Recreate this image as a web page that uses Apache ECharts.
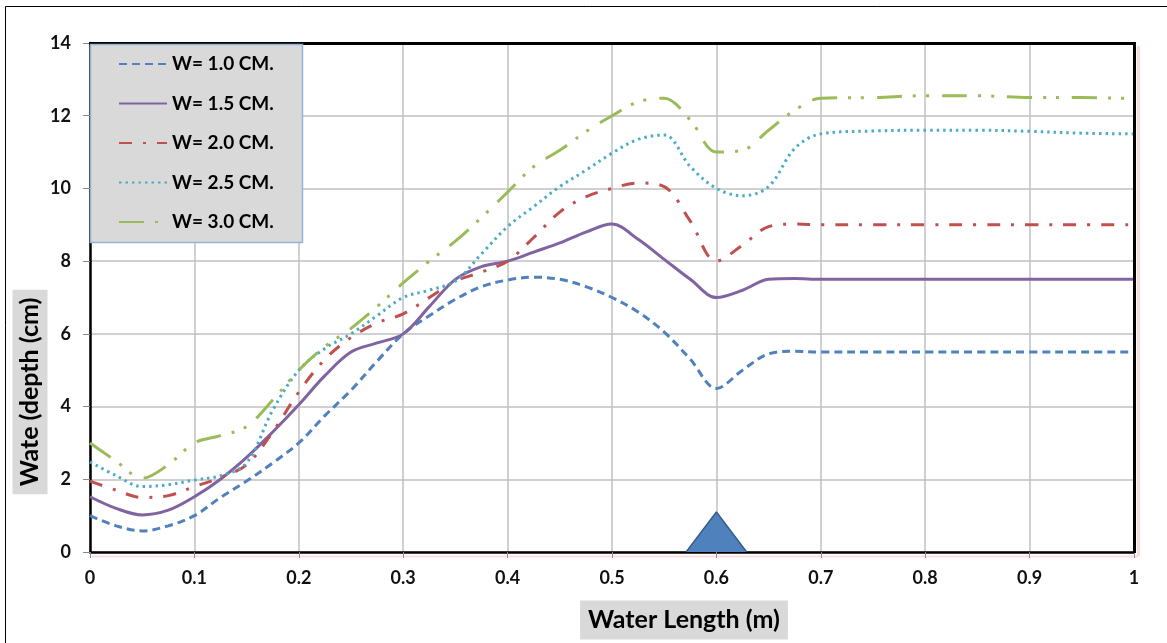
<!DOCTYPE html>
<html>
<head>
<meta charset="utf-8">
<script src="https://cdn.jsdelivr.net/npm/echarts@6/dist/echarts.min.js"></script>
<style>
html,body{margin:0;padding:0;background:#fff;}
#chart{width:1167px;height:643px;}
</style>
</head>
<body>
<div id="chart"></div>
<script>
// ---- data ----
var xs = [0, 0.025, 0.05, 0.075, 0.1, 0.125, 0.15, 0.175, 0.2, 0.225, 0.25, 0.275, 0.3, 0.325, 0.35, 0.375, 0.4, 0.425, 0.45, 0.475, 0.5, 0.525, 0.55, 0.575, 0.6, 0.625, 0.65, 0.675, 0.7, 0.75, 0.8, 0.85, 0.9, 0.95, 1.0];
var w10 = [1.0, 0.72, 0.58, 0.72, 1.0, 1.5, 1.95, 2.45, 3.0, 3.75, 4.45, 5.25, 6.0, 6.5, 6.95, 7.3, 7.48, 7.56, 7.5, 7.3, 7.0, 6.6, 6.05, 5.3, 4.5, 5.0, 5.45, 5.52, 5.5, 5.5, 5.5, 5.5, 5.5, 5.5, 5.5];
var w15 = [1.52, 1.2, 1.02, 1.15, 1.52, 2.0, 2.6, 3.3, 4.05, 4.85, 5.5, 5.75, 6.0, 6.75, 7.5, 7.85, 8.0, 8.25, 8.5, 8.8, 9.02, 8.6, 8.05, 7.5, 7.0, 7.2, 7.5, 7.52, 7.5, 7.5, 7.5, 7.5, 7.5, 7.5, 7.5];
var w20 = [1.95, 1.7, 1.5, 1.55, 1.8, 2.05, 2.4, 3.3, 4.4, 5.3, 5.9, 6.3, 6.55, 7.0, 7.45, 7.7, 8.0, 8.65, 9.35, 9.77, 10.0, 10.15, 10.05, 9.1, 8.0, 8.44, 8.95, 9.02, 9.0, 9.0, 9.0, 9.0, 9.0, 9.0, 9.0];
var w25 = [2.48, 2.1, 1.8, 1.85, 1.98, 2.1, 2.45, 3.9, 5.0, 5.6, 6.0, 6.5, 7.0, 7.2, 7.45, 8.2, 8.95, 9.5, 10.05, 10.5, 10.97, 11.35, 11.47, 10.6, 10.0, 9.8, 10.05, 11.1, 11.5, 11.58, 11.6, 11.6, 11.57, 11.52, 11.5];
var w30 = [3.0, 2.5, 2.03, 2.4, 3.0, 3.2, 3.45, 4.18, 5.0, 5.65, 6.15, 6.75, 7.4, 8.0, 8.55, 9.2, 9.9, 10.6, 11.05, 11.56, 12.0, 12.38, 12.48, 11.88, 11.0, 11.05, 11.6, 12.15, 12.48, 12.5, 12.55, 12.55, 12.5, 12.5, 12.47];
var seriesNames = ['W= 1.0 CM.', 'W= 1.5 CM.', 'W= 2.0 CM.', 'W= 2.5 CM.', 'W= 3.0 CM.'];
var triX = [0.571, 0.6, 0.629];
var triY = [0, 1.1, 0];
var xTicks = ['0', '0.1', '0.2', '0.3', '0.4', '0.5', '0.6', '0.7', '0.8', '0.9', '1'];
var yTicks = ['0', '2', '4', '6', '8', '10', '12', '14'];
var xTitle = 'Water Length (m)';
var yTitle = 'Wate (depth (cm)';

// ---- chart ----
var FONT = 'Lato';
function pts(ys) { return xs.map(function (x, i) { return [x, ys[i]]; }); }
var styles = [
  { color: '#4f81bd', width: 3, type: [8, 5] },
  { color: '#8064a2', width: 3, type: 'solid' },
  { color: '#c0504d', width: 3, type: [13, 11, 3, 11] },
  { color: '#4bacc6', width: 3, type: [2.5, 4] },
  { color: '#9bbb59', width: 3, type: [25, 11, 3, 10, 3, 13] }
];
var allY = [w10, w15, w20, w25, w30];
var series = allY.map(function (ys, k) {
  return {
    name: seriesNames[k], type: 'line', data: pts(ys), smooth: 0.35,
    symbol: 'none', lineStyle: styles[k], itemStyle: { color: styles[k].color }, z: 2
  };
});
series.push({
  name: 'gate', type: 'line', data: triX.map(function (x, i) { return [x, triY[i]]; }),
  symbol: 'none', smooth: false,
  lineStyle: { color: '#385d8a', width: 1.5 }, itemStyle: { color: '#4f81bd' },
  areaStyle: { color: '#4f81bd', opacity: 1 }, z: 3
});

var chart = echarts.init(document.getElementById('chart'), null, { renderer: 'canvas' });
chart.setOption({
  animation: false,
  backgroundColor: '#fff',
  grid: { left: 90, right: 33, top: 43, bottom: 91 },
  xAxis: {
    type: 'value', min: 0, max: 1, interval: 0.1,
    axisLine: { show: true, onZero: false, lineStyle: { color: '#000', width: 2.5 } },
    axisTick: { show: true, length: 6, lineStyle: { color: '#888' } },
    splitLine: { show: true, lineStyle: { color: '#c0c0c0', width: 1.5 } },
    axisLabel: { margin: 17, fontFamily: FONT, fontWeight: 'bold', fontSize: 18, color: '#111',
      formatter: function (v) { return xTicks[Math.round(v * 10)]; } }
  },
  yAxis: {
    type: 'value', min: 0, max: 14, interval: 2,
    axisLine: { show: true, onZero: false, lineStyle: { color: '#000', width: 2.5 } },
    axisTick: { show: true, length: 7, lineStyle: { color: '#888' } },
    splitLine: { show: true, lineStyle: { color: '#c0c0c0', width: 1.5 } },
    axisLabel: { margin: 19, fontFamily: FONT, fontWeight: 'bold', fontSize: 18, color: '#111',
      formatter: function (v) { return yTicks[Math.round(v / 2)]; } }
  },
  legend: {
    data: seriesNames, orient: 'vertical', left: 90, top: 43,
    padding: [11, 10, 10, 28], itemWidth: 48, itemHeight: 14, itemGap: 19.5,
    itemStyle: { opacity: 0, borderWidth: 0 },
    textStyle: { fontFamily: FONT, fontWeight: 'bold', fontSize: 19, color: '#000', lineHeight: 20 },
    z: 10
  },
  graphic: [
    { type: 'rect', z: 0, silent: true, shape: { x: 5.5, y: 6.5, width: 1300, height: 800 },
      style: { fill: 'none', stroke: '#000', lineWidth: 1 } },
    { type: 'line', z: 1, silent: true, shape: { x1: 1138.5, y1: 46, x2: 1138.5, y2: 556 },
      style: { stroke: 'rgba(235,140,140,0.3)', lineWidth: 3 } },
    { type: 'line', z: 1, silent: true, shape: { x1: 92, y1: 556.5, x2: 1138, y2: 556.5 },
      style: { stroke: 'rgba(235,140,140,0.3)', lineWidth: 2 } },
    { type: 'line', z: 6, silent: true, shape: { x1: 89, y1: 43.5, x2: 1136, y2: 43.5 },
      style: { stroke: '#000', lineWidth: 3 } },
    { type: 'line', z: 6, silent: true, shape: { x1: 1134.5, y1: 42, x2: 1134.5, y2: 553 },
      style: { stroke: '#000', lineWidth: 3 } },
    { type: 'rect', z: 8, silent: true, shape: { x: 90.5, y: 44.5, width: 212, height: 198 },
      style: { fill: '#d9d9d9', stroke: '#95b3d7', lineWidth: 1.5 } },
    { type: 'text', z: 9, silent: true, x: 684, y: 620,
      style: { text: xTitle, fontFamily: FONT, fontWeight: 'bold', fontSize: 25, fill: '#000',
        align: 'center', verticalAlign: 'middle', backgroundColor: '#d9d9d9', padding: [7, 8, 7, 8] } },
    { type: 'text', z: 9, silent: true, x: 30, y: 392, rotation: Math.PI / 2,
      style: { text: yTitle, fontFamily: FONT, fontWeight: 'bold', fontSize: 25, fill: '#000',
        align: 'center', verticalAlign: 'middle', backgroundColor: '#d9d9d9', padding: [5, 8, 5, 8] } }
  ],
  series: series
});
</script>
</body>
</html>
